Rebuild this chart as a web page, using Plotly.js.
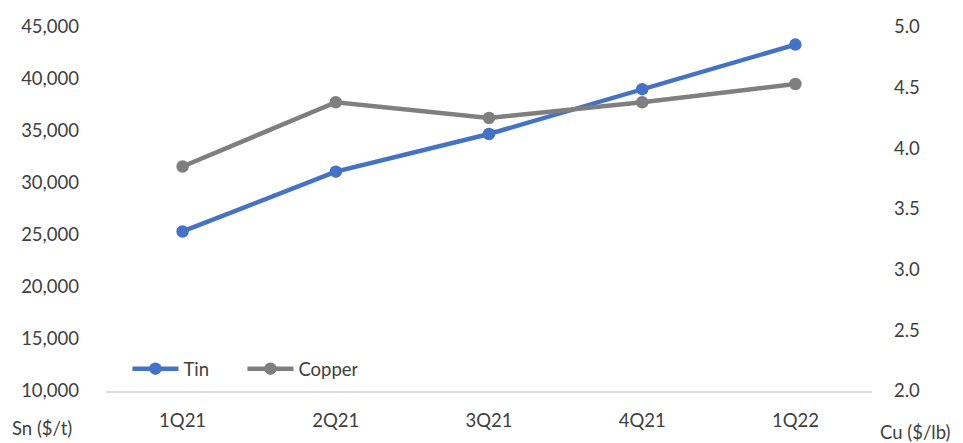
<!DOCTYPE html>
<html>
<head>
<meta charset="utf-8">
<script src="https://cdn.plot.ly/plotly-3.0.1.min.js"></script>
<style>html,body{margin:0;padding:0;background:#fff;}#chart{width:963px;height:443px;}</style>
</head>
<body>
<div id="chart"></div>
<script>
const quarters = ["1Q21", "2Q21", "3Q21", "4Q21", "1Q22"];
const tinPrices = [25340, 31090, 34710, 39020, 43310];
const copperPrices = [3.85, 4.38, 4.25, 4.38, 4.53];
const leftTicks = [10000, 15000, 20000, 25000, 30000, 35000, 40000, 45000];
const rightTicks = [2.0, 2.5, 3.0, 3.5, 4.0, 4.5, 5.0];

const font = {family: "Lato, 'Open Sans', sans-serif", size: 18.5, color: "#404040"};

const traces = [
  {x: quarters, y: tinPrices, name: "Tin", type: "scatter", mode: "lines+markers",
   line: {color: "#4472c4", width: 4.5}, marker: {color: "#4472c4", size: 12.5}, yaxis: "y"},
  {x: quarters, y: copperPrices, name: "Copper", type: "scatter", mode: "lines+markers",
   line: {color: "#7f7f7f", width: 4.5}, marker: {color: "#7f7f7f", size: 12.5}, yaxis: "y2"}
];

const layout = {
  width: 963, height: 443,
  margin: {l: 106, r: 91, t: 27, b: 52},
  paper_bgcolor: "#fff", plot_bgcolor: "#fff",
  font: font,
  showlegend: true,
  legend: {orientation: "h", x: 0.028, y: 0.06, xanchor: "left", yanchor: "middle",
           bgcolor: "rgba(0,0,0,0)", font: font, tracegroupgap: 0,
           itemwidth: 46, entrywidth: 54, entrywidthmode: "pixels"},
  xaxis: {type: "category", range: [-0.5, 4.5], showgrid: false, zeroline: false,
          showline: true, linecolor: "#d9d9d9", linewidth: 2, ticks: "", ticklabelstandoff: 12,
          tickfont: font, fixedrange: true},
  yaxis: {range: [10000, 45000], tickvals: leftTicks, tickformat: ",d", showgrid: false,
          zeroline: false, showline: false, ticks: "", ticklabelstandoff: 26, tickfont: font},
  yaxis2: {range: [2.0, 5.0], tickvals: rightTicks, tickformat: ".1f", overlaying: "y",
           side: "right", showgrid: false, zeroline: false, showline: false, ticks: "",
           ticklabelstandoff: 21, tickfont: font},
  annotations: [
    {text: "Sn ($/t)", xref: "paper", yref: "paper", x: 0, xshift: -96, xanchor: "left",
     y: 0, yshift: -37, yanchor: "middle", showarrow: false, font: font},
    {text: "Cu ($/lb)", xref: "paper", yref: "paper", x: 1, xshift: 6, xanchor: "left",
     y: 0, yshift: -41, yanchor: "middle", showarrow: false, font: font}
  ]
};

Plotly.newPlot("chart", traces, layout, {displayModeBar: false, staticPlot: true});
</script>
</body>
</html>
